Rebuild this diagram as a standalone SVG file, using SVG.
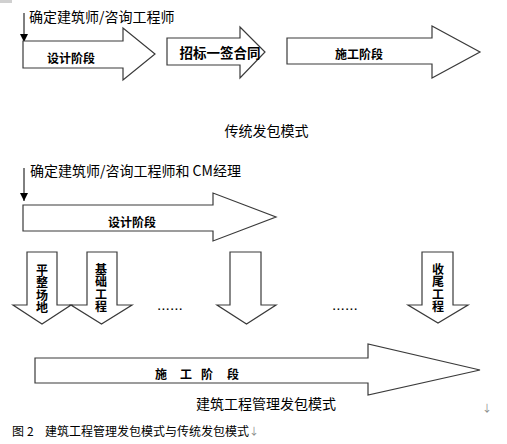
<svg xmlns="http://www.w3.org/2000/svg" width="507" height="444" viewBox="0 0 507 444">
<style>
.ar{fill:#fff;stroke:#3a3a3a;stroke-width:1.2;stroke-linejoin:miter}
.t{font-family:"Noto Sans CJK SC","Liberation Sans",sans-serif;fill:#000;dominant-baseline:central}
.b{font-weight:bold;font-size:12px}
.n{font-size:14px}
.c{text-anchor:middle}
.g{fill:#888}
.ln{stroke:#000;stroke-width:1;fill:none}
</style>
<defs>
<marker id="ah" markerUnits="userSpaceOnUse" markerWidth="8" markerHeight="10" refX="8" refY="4" orient="auto">
<path d="M0,0 L8,4 L0,8 Z" fill="#000"/>
</marker>
</defs>
<rect width="507" height="444" fill="#fff"/>
<rect x="0" y="0" width="12" height="3" fill="#d0d0d0"/>

<g id="connectors">
<line class="ln" x1="24" y1="13" x2="24" y2="42" marker-end="url(#ah)"/>
<line class="ln" x1="24" y1="168" x2="24" y2="201" marker-end="url(#ah)"/>
</g>

<g id="label-top">
<text class="t n" x="29" y="16">确定建筑师/咨询工程师</text>
</g>
<g id="design-1">
<polygon class="ar" points="23,41 123,41 123,28 155,54 123,80 123,68 23,68"/>
<text class="t b" x="47" y="57">设计阶段</text>
</g>
<g id="bidding">
<polygon class="ar" points="167,38 240,38 240,27 265,52 240,78 240,65 167,65"/>
<text class="t b c" x="220" y="52" style="font-size:13.5px">招标一签合同</text>
</g>
<g id="construction-1">
<polygon class="ar" points="287,38 432,38 432,26 480,52 432,78 432,64 287,64"/>
<text class="t b c" x="359" y="53">施工阶段</text>
</g>
<g id="caption-traditional">
<text class="t n c" x="266.5" y="130">传统发包模式</text>
</g>

<g id="label-cm">
<text class="t n" x="30" y="170">确定建筑师/咨询工程师和 CM经理</text>
</g>
<g id="design-2">
<polygon class="ar" points="23,205 213,205 213,193 276,217 213,241 213,231 23,231"/>
<text class="t b c" x="132" y="221">设计阶段</text>
</g>
<g id="site-leveling">
<polygon class="ar" points="27,252 57,252 57,305 71,305 42,324 13,305 27,305"/>
<text class="t b c" x="42" y="269">平<tspan x="42" dy="12.3">整</tspan><tspan x="42" dy="12.3">场</tspan><tspan x="42" dy="12.3">地</tspan></text>
</g>
<g id="foundation">
<polygon class="ar" points="87,252 117,252 117,305 132,305 101.5,324 71,305 87,305"/>
<text class="t b c" x="101" y="268">基<tspan x="101" dy="12.3">础</tspan><tspan x="101" dy="12.3">工</tspan><tspan x="101" dy="12.3">程</tspan></text>
</g>
<g id="dots-1">
<text x="157" y="310" style="font-family:'Liberation Sans',sans-serif;font-size:15.5px">......</text>
</g>
<g id="empty-stage">
<polygon class="ar" points="230,252 261,252 261,305 276,305 246.5,324 217,305 230,305"/>
</g>
<g id="dots-2">
<text x="332" y="310" style="font-family:'Liberation Sans',sans-serif;font-size:15.5px">......</text>
</g>
<g id="closing">
<polygon class="ar" points="422,252 453,252 453,305 468,305 438,323 408,305 422,305"/>
<text class="t b c" x="438" y="268">收<tspan x="438" dy="12.3">尾</tspan><tspan x="438" dy="12.3">工</tspan><tspan x="438" dy="12.3">程</tspan></text>
</g>
<g id="construction-2">
<polygon class="ar" points="35,358 368,358 368,344 480,370 368,395 368,383 35,383"/>
<text class="t b c" y="373"><tspan x="161">施</tspan><tspan x="186">工</tspan><tspan x="207">阶</tspan><tspan x="233">段</tspan></text>
</g>
<g id="caption-cm">
<text class="t n c" x="266" y="403">建筑工程管理发包模式</text>
<text class="t g" x="482" y="407" style="font-size:10px">↓</text>
</g>
<g id="figure-caption">
<text class="t" y="430" style="font-size:12px"><tspan x="12">图</tspan><tspan x="27">2</tspan><tspan x="45">建筑工程管理发包模式与传统发包模式</tspan><tspan class="g" style="font-size:10px">↓</tspan></text>
</g>
</svg>
